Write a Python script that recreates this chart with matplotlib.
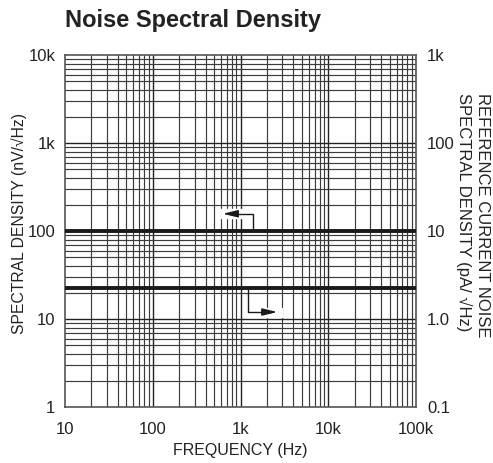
import matplotlib
matplotlib.use("Agg")
import matplotlib.pyplot as plt
import numpy as np

plt.rcParams['font.family'] = ['Liberation Sans', 'DejaVu Sans']

# Data
freq = [10, 100000]
voltage_noise = [100, 100]          # nV/sqrtHz (left axis)
current_noise = [2.25, 2.25]        # pA/sqrtHz (right axis)
x_ticks = [10, 100, 1000, 10000, 100000]
x_labels = ["10", "100", "1k", "10k", "100k"]
yl_ticks = [1, 10, 100, 1000, 10000]
yl_labels = ["1", "10", "100", "1k", "10k"]
yr_ticks = [0.1, 1, 10, 100, 1000]
yr_labels = ["0.1", "1.0", "10", "100", "1k"]

W, H = 493, 463
fig = plt.figure(figsize=(W/100, H/100), dpi=100)
ax = fig.add_axes([65/W, 1-407/H, 351/W, 352/H])
ax.set_xscale('log')
ax.set_yscale('log')
ax.set_xlim(10, 100000)
ax.set_ylim(1, 10000)

# grid
for dec in [10, 100, 1000, 10000]:
    for m in range(1, 10):
        v = dec * m
        if 10 < v < 100000:
            ax.axvline(v, color='#222222' if m == 1 else '#3c3c3c', lw=1.0 if m == 1 else 0.85, zorder=1)
for dec in [1, 10, 100, 1000]:
    for m in range(1, 10):
        v = dec * m
        if 1 < v < 10000:
            ax.axhline(v, color='#222222' if m == 1 else '#3c3c3c', lw=1.0 if m == 1 else 0.85, zorder=1)

ax.plot(freq, voltage_noise, color='#1a1a1a', lw=2.8, zorder=3)
ax.plot(freq, [c * 10 for c in current_noise], color='#1a1a1a', lw=2.8, zorder=3)

# arrows
ax.fill_between([560, 1500], 140, 180, color='white', zorder=2)
ax.plot([1390, 1390, 760], [100, 157, 157], color='#1a1a1a', lw=1.0, zorder=4)
ax.annotate('', xy=(585, 157), xytext=(800, 157),
            arrowprops=dict(arrowstyle='-|>,head_length=0.9,head_width=0.22', color='#1a1a1a', lw=1.0), zorder=4)
ax.fill_between([1150, 3000], 10.5, 13.5, color='white', zorder=2)
ax.plot([1220, 1220, 2200], [22.5, 12, 12], color='#1a1a1a', lw=1.0, zorder=4)
ax.annotate('', xy=(2820, 12), xytext=(2000, 12),
            arrowprops=dict(arrowstyle='-|>,head_length=0.9,head_width=0.22', color='#1a1a1a', lw=1.0), zorder=4)

ax.set_xticks(x_ticks)
ax.set_xticklabels(x_labels)
ax.set_yticks(yl_ticks)
ax.set_yticklabels(yl_labels)
ax.minorticks_off()
ax.tick_params(length=0, labelsize=12, colors='#222222')
ax.tick_params(axis='x', pad=11)
ax.tick_params(axis='y', pad=7)
for s in ax.spines.values():
    s.set_color('#555555')
    s.set_linewidth(1.2)

ax2 = ax.twinx()
ax2.set_yscale('log')
ax2.set_ylim(0.1, 1000)
ax2.set_yticks(yr_ticks)
ax2.set_yticklabels(yr_labels)
ax2.minorticks_off()
ax2.tick_params(length=0, labelsize=12, colors='#222222', pad=8)
for s in ax2.spines.values():
    s.set_visible(False)

ax.set_xlabel("FREQUENCY (Hz)", fontsize=11.5, color='#222222', labelpad=4)
fig.text(19/W, 1-224/H, "SPECTRAL DENSITY (nV/√Hz)", fontsize=11.3, color='#222222',
         rotation=90, ha='center', va='center')
fig.text(473/W, 1-93/H, "REFERENCE CURRENT NOISE\nSPECTRAL DENSITY (pA/ √Hz)", fontsize=12,
         color='#222222', rotation=-90, ha='center', va='top', multialignment='left',
         linespacing=1.3)

fig.text(65/W, 1-20/H, "Noise Spectral Density", fontsize=17, fontweight='bold',
         color='#222222', va='center', ha='left')

fig.savefig("out.png", dpi=100)
